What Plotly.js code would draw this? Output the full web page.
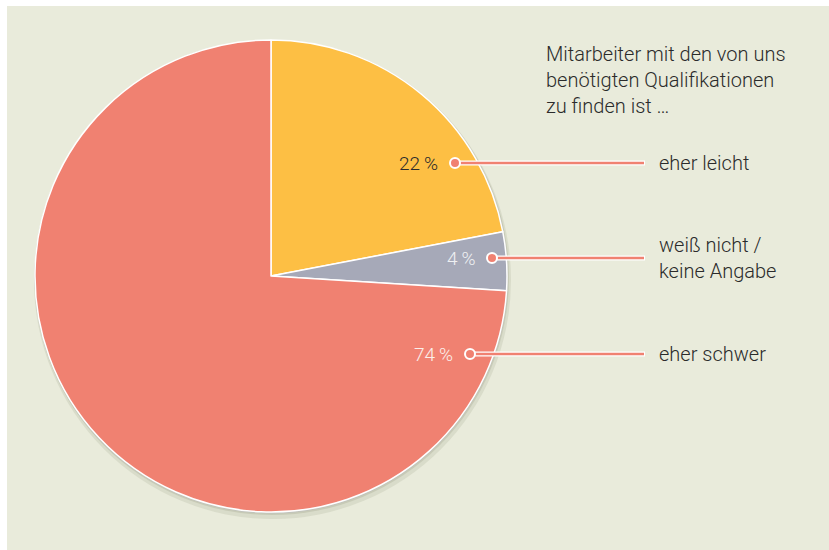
<!DOCTYPE html>
<html>
<head>
<meta charset="utf-8">
<script src="https://cdn.plot.ly/plotly-3.0.1.min.js"></script>
<style>html,body{margin:0;padding:0;background:#fff;}#chart{width:829px;height:550px;}</style>
</head>
<body>
<div id="chart"></div>
<script>
// Data
const categories = ["eher leicht", "weiß nicht / keine Angabe", "eher schwer"];
const labelTexts = ["eher leicht", "weiß nicht /<br>keine Angabe", "eher schwer"];
const values = [22, 4, 74];
const colors = ["#fdbf44", "#a6a9b8", "#f08171"];
const titleText = "Mitarbeiter mit den von uns<br>benötigten Qualifikationen<br>zu finden ist …";

const W = 829, H = 550;
const px = x => x / W;
const py = y => 1 - y / H;

// Layout positions (pixels)
const cx = 271, cy = 276, R = 236;
const dotX = [455, 492, 470];
const rowY = [163, 258, 354];
const lineEndX = 644;
const labelX = 657;
const pctColors = ["#2b2b2b", "#eef0f2", "#fbeeea"];

const font = {family: "Roboto, 'Liberation Sans', sans-serif", size: 20, color: "#2b2b2b", weight: 300};

const shapes = [
  {type: "rect", xref: "paper", yref: "paper", x0: px(7), x1: 1, y0: 0, y1: py(6),
   fillcolor: "#e9ebdb", line: {width: 0}, layer: "below"},
  {type: "circle", xref: "paper", yref: "paper", x0: px(cx - R - 1), x1: px(cx + R + 4),
   y0: py(cy + R + 7), y1: py(cy - R + 1), fillcolor: "rgba(170,175,150,0.25)", line: {width: 0}, layer: "below"},
  {type: "circle", xref: "paper", yref: "paper", x0: px(cx - R - 0.5), x1: px(cx + R + 2),
   y0: py(cy + R + 3), y1: py(cy - R), fillcolor: "rgba(165,170,145,0.35)", line: {width: 0}, layer: "below"},
  {type: "circle", xref: "paper", yref: "paper", x0: px(cx - R - 0.5), x1: px(cx + R + 1),
   y0: py(cy + R + 1.5), y1: py(cy - R), fillcolor: "rgba(192,194,188,1)", line: {width: 0}, layer: "below"}
];
const annotations = [
  {xref: "paper", yref: "paper", x: px(544), y: py(40), xanchor: "left", yanchor: "top", align: "left",
   text: titleText, showarrow: false, font: font}
];
values.forEach((v, i) => {
  shapes.push({type: "line", xref: "paper", yref: "paper", x0: px(dotX[i]), x1: px(lineEndX + 1),
    y0: py(rowY[i]), y1: py(rowY[i]), line: {color: "#ffffff", width: 5}});
  shapes.push({type: "line", xref: "paper", yref: "paper", x0: px(dotX[i]), x1: px(lineEndX),
    y0: py(rowY[i]), y1: py(rowY[i]), line: {color: colors[2], width: 2.5}});
  shapes.push({type: "circle", xref: "paper", yref: "paper", x0: px(dotX[i] - 5), x1: px(dotX[i] + 5),
    y0: py(rowY[i] + 5), y1: py(rowY[i] - 5), fillcolor: colors[2], line: {color: "#ffffff", width: 2}});
  annotations.push({xref: "paper", yref: "paper", x: px(dotX[i] - 15), y: py(rowY[i]), xanchor: "right", yanchor: "middle",
    text: v + "\u2009%", showarrow: false, font: Object.assign({}, font, {size: 19, color: pctColors[i]})});
  annotations.push({xref: "paper", yref: "paper", x: px(labelX), y: py(rowY[i]), xanchor: "left", yanchor: "middle",
    align: "left", text: labelTexts[i], showarrow: false, font: font});
});

const trace = {
  type: "pie",
  labels: categories,
  values: values,
  sort: false,
  direction: "clockwise",
  rotation: 0,
  marker: {colors: colors, line: {color: "#ffffff", width: 1.5}},
  textinfo: "none",
  hoverinfo: "label+percent",
  showlegend: false,
  domain: {x: [px(cx - R), px(cx + R)], y: [py(cy + R), py(cy - R)]}
};

const layout = {
  width: W, height: H,
  margin: {l: 0, r: 0, t: 0, b: 0},
  paper_bgcolor: "#ffffff",
  showlegend: false,
  shapes: shapes,
  annotations: annotations,
  font: font
};

Plotly.newPlot("chart", [trace], layout, {displayModeBar: false, staticPlot: true});
</script>
</body>
</html>
